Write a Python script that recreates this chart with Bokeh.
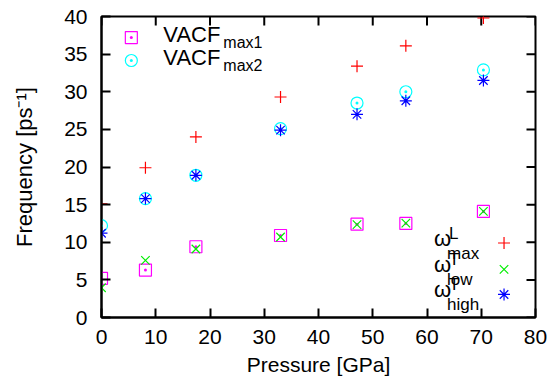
import math
from bokeh.plotting import figure
from bokeh.models import Range1d, Label, FixedTicker
from bokeh.embed import file_html
from bokeh.resources import INLINE

# ---- data ----
pressure = [0.0, 8.1, 17.4, 33.0, 47.1, 56.1, 70.4]
vacf_max1 = [5.2, 6.3, 9.4, 10.9, 12.4, 12.5, 14.1]
vacf_max2 = [12.2, 15.8, 18.9, 25.1, 28.5, 30.0, 32.9]
omega_L_max = [15.1, 19.9, 24.0, 29.3, 33.4, 36.1, 39.8]
omega_T_low = [3.95, 7.6, 9.1, 10.7, 12.35, 12.55, 14.1]
omega_T_high = [11.2, 15.8, 18.9, 24.9, 27.0, 28.8, 31.5]

x_ticks = [0, 10, 20, 30, 40, 50, 60, 70, 80]
y_ticks = [0, 5, 10, 15, 20, 25, 30, 35, 40]

X_MIN, X_MAX = 0, 80
Y_MIN, Y_MAX = 0, 40

FONT = "Liberation Sans"
TICK_FS = "21px"

p = figure(width=550, height=388, x_range=Range1d(X_MIN, X_MAX), y_range=Range1d(Y_MIN, Y_MAX),
           output_backend="svg", toolbar_location=None,
           min_border_left=101, min_border_right=15, min_border_top=16, min_border_bottom=71)
p.grid.visible = False
p.outline_line_color = "black"
p.outline_line_width = 2
p.background_fill_color = "white"
p.border_fill_color = "white"


def style_axis(ax, ticks):
    ax.ticker = FixedTicker(ticks=ticks)
    ax.axis_line_color = "black"
    ax.axis_line_width = 2
    ax.major_tick_in = 9
    ax.major_tick_out = 0
    ax.major_tick_line_width = 2
    ax.major_tick_line_color = "black"
    ax.minor_tick_line_color = None
    ax.major_label_text_font = FONT
    ax.major_label_text_font_size = TICK_FS
    ax.major_label_text_color = "black"
    ax.axis_label_text_font = FONT
    ax.axis_label_text_font_style = "normal"
    ax.axis_label_text_color = "black"


style_axis(p.xaxis[0], x_ticks)
style_axis(p.yaxis[0], y_ticks)
p.xaxis[0].major_label_standoff = 12
p.yaxis[0].major_label_standoff = 14
p.xaxis[0].axis_label = "Pressure [GPa]"
p.xaxis[0].axis_label_text_font_size = TICK_FS
p.xaxis[0].axis_label_standoff = 6
p.yaxis[0].axis_label = "Frequency [ps\u207b\u00b9]"
p.yaxis[0].axis_label_text_font_size = "22px"
p.yaxis[0].axis_label_standoff = 24

# mirrored inward ticks on top and right edges
p.ray(x=x_ticks, y=[Y_MAX] * len(x_ticks), length=9, length_units="screen",
      angle=-math.pi / 2, line_color="black", line_width=2)
p.ray(x=[X_MAX] * len(y_ticks), y=y_ticks, length=9, length_units="screen",
      angle=math.pi, line_color="black", line_width=2)

# ---- series ----
p.scatter(pressure, vacf_max1, marker="square_dot", size=12, line_color="#ff00ff",
          fill_color=None, line_width=1.2)
p.scatter(pressure, vacf_max2, marker="circle_dot", size=12, line_color="#00ffff",
          fill_color=None, line_width=1.2)
p.scatter(pressure, omega_L_max, marker="cross", size=12, line_color="#ff0000", line_width=1.2)
p.scatter(pressure, omega_T_low, marker="x", size=12, line_color="#00ee00", line_width=1.2)
p.scatter(pressure, omega_T_high, marker="asterisk", size=12, line_color="#0000ff", line_width=1.2)

# ---- top-left legend ----
LEG1_X = 5.5
LEG1_Y = [37.2, 34.15]
leg1_markers = ["square_dot", "circle_dot"]
leg1_colors = ["#ff00ff", "#00ffff"]
leg1_subs = ["max1", "max2"]
for yy, mk, col, sub in zip(LEG1_Y, leg1_markers, leg1_colors, leg1_subs):
    p.scatter([LEG1_X], [yy], marker=mk, size=12, line_color=col, fill_color=None, line_width=1.2)
    p.add_layout(Label(x=LEG1_X, y=yy, x_offset=32, y_offset=3, text="VACF",
                       text_font=FONT, text_font_size="22px", text_baseline="alphabetic",
                       text_align="left", text_color="black"))
    p.add_layout(Label(x=LEG1_X, y=yy, x_offset=92, y_offset=-5, text=sub,
                       text_font=FONT, text_font_size="16px", text_baseline="alphabetic",
                       text_align="left", text_color="black"))

# ---- bottom-right legend ----
LEG2_X = 74.2
LEG2_Y = [9.9, 6.4, 3.06]
leg2_markers = ["cross", "x", "asterisk"]
leg2_colors = ["#ff0000", "#00ee00", "#0000ff"]
leg2_sups = ["L", "T", "T"]
leg2_subs = ["max", "low", "high"]
for yy, mk, col, sup, sub in zip(LEG2_Y, leg2_markers, leg2_colors, leg2_sups, leg2_subs):
    p.scatter([LEG2_X], [yy], marker=mk, size=12, line_color=col, line_width=1.2)
    p.add_layout(Label(x=LEG2_X, y=yy, x_offset=-70, y_offset=5, text="\u03c9",
                       text_font=FONT, text_font_size="22px", text_baseline="alphabetic",
                       text_align="left", text_color="black"))
    p.add_layout(Label(x=LEG2_X, y=yy, x_offset=-55, y_offset=10, text=sup,
                       text_font=FONT, text_font_size="17px", text_baseline="alphabetic",
                       text_align="left", text_color="black"))
    p.add_layout(Label(x=LEG2_X, y=yy, x_offset=-57, y_offset=-10, text=sub,
                       text_font=FONT, text_font_size="17px", text_baseline="alphabetic",
                       text_align="left", text_color="black"))

open("out.html", "w").write(file_html(p, INLINE))
